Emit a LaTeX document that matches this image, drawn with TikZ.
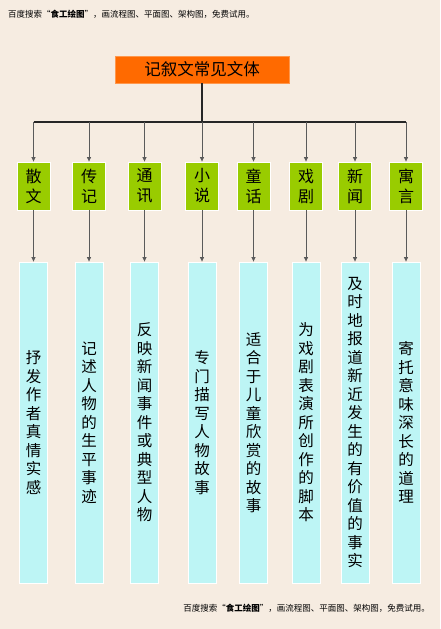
\documentclass[tikz,border=0pt]{standalone}
\usepackage{fontspec}
\setmainfont{Noto Sans CJK SC}
\usetikzlibrary{arrows.meta}
\definecolor{bg}{HTML}{F6ECE1}
\definecolor{titleor}{HTML}{FF6A00}
\definecolor{greenbox}{HTML}{99CC00}
\definecolor{cyanbox}{HTML}{BDF5F5}
\definecolor{linegray}{HTML}{5A5A5A}
\tikzset{
  titlebox/.style={fill=titleor, draw=titleor!70!white, line width=0.6pt, minimum width=174pt, minimum height=27pt, inner sep=0pt, font=\fontsize{16.5}{18}\selectfont},
  kindbox/.style={fill=greenbox, draw=white, line width=0.8pt, minimum width=33pt, minimum height=48pt, inner sep=0pt, align=center, font=\fontsize{16}{20}\selectfont},
  descbox/.style={fill=cyanbox, draw=white, line width=0.8pt, minimum width=28pt, minimum height=321pt, inner sep=0pt, align=center, font=\fontsize{15.5}{18.5}\selectfont},
  conn/.style={draw=linegray, line width=0.7pt, -{Triangle[length=4.5pt,width=4pt]}},
  bus/.style={draw=black!85, line width=1.1pt},
  note/.style={inner sep=0pt, font=\fontsize{8.5}{10}\selectfont}
}
\begin{document}
\begin{tikzpicture}[x=1pt,y=-1pt]
\fill[bg] (0,0) rectangle (440,629);
\useasboundingbox (0,0) rectangle (440,629);
\node[note, anchor=west] (topnote) at (8,14) {百度搜索“\textbf{食工绘图}”，画流程图、平面图、架构图，免费试用。};
\node[note, anchor=east] (botnote) at (430,608) {百度搜索“\textbf{食工绘图}”，画流程图、平面图、架构图，免费试用。};
\node[titlebox] (T) at (202,69.5) {记叙文常见文体};
\coordinate (J) at (202,122);
\node[kindbox] (g1) at (33.5,186) {散\\文};
\node[kindbox] (g2) at (89,186) {传\\记};
\node[kindbox] (g3) at (144.5,186) {通\\讯};
\node[kindbox] (g4) at (202,186) {小\\说};
\node[kindbox] (g5) at (253.5,186) {童\\话};
\node[kindbox] (g6) at (306,186) {戏\\剧};
\node[kindbox] (g7) at (355,186) {新\\闻};
\node[kindbox] (g8) at (406,186) {寓\\言};
\node[descbox] (c1) at (33.5,422.5) {抒\\发\\作\\者\\真\\情\\实\\感};
\node[descbox] (c2) at (89,422.5) {记\\述\\人\\物\\的\\生\\平\\事\\迹};
\node[descbox] (c3) at (144.5,422.5) {反\\映\\新\\闻\\事\\件\\或\\典\\型\\人\\物};
\node[descbox] (c4) at (202,422.5) {专\\门\\描\\写\\人\\物\\故\\事};
\node[descbox] (c5) at (253.5,422.5) {适\\合\\于\\儿\\童\\欣\\赏\\的\\故\\事};
\node[descbox] (c6) at (306,422.5) {为\\戏\\剧\\表\\演\\所\\创\\作\\的\\脚\\本};
\node[descbox] (c7) at (355,422.5) {及\\时\\地\\报\\道\\新\\近\\发\\生\\的\\有\\价\\值\\的\\事\\实};
\node[descbox] (c8) at (406,422.5) {寄\\托\\意\\味\\深\\长\\的\\道\\理};
\draw[bus, line width=1.4pt] (T.south) -- (J);
\draw[bus] (J -| g1) -- (J -| g8);
\foreach \i in {1,...,8} {
  \draw[conn] (J -| g\i) -- (g\i.north);
  \draw[conn] (g\i.south) -- (c\i.north);
}
\end{tikzpicture}
\end{document}
